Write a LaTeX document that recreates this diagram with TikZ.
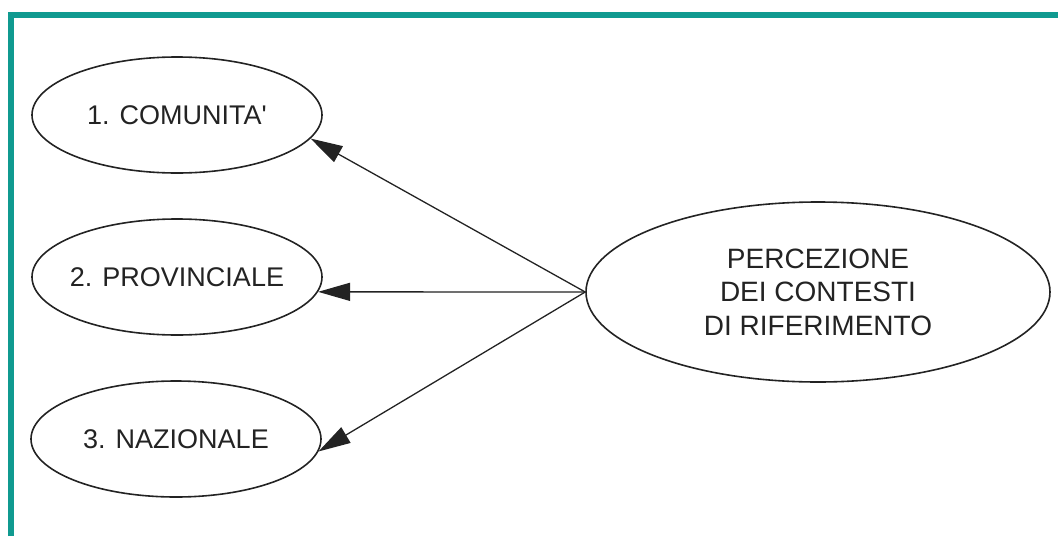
\documentclass[tikz,border=0pt]{standalone}
\usepackage{fontspec}
% plain family, so that ' stays a straight apostrophe
\newfontfamily\diagfont{Liberation Sans}
\usetikzlibrary{shapes.geometric,arrows.meta}
\definecolor{frameteal}{RGB}{16,154,144}
\definecolor{inkgray}{RGB}{35,35,35}
\newcommand{\lvltext}[1]{\makebox[0pt]{#1}}
\tikzset{
  level/.style={ellipse, draw=inkgray, line width=1.6pt, inner sep=0pt,
    minimum width=290pt, minimum height=116pt,
    font=\diagfont\fontsize{27pt}{32pt}\selectfont, text=inkgray},
  hub/.style={ellipse, draw=inkgray, line width=1.6pt, inner sep=0pt,
    minimum width=464pt, minimum height=180pt, align=center,
    font=\diagfont\fontsize{28pt}{33.5pt}\selectfont, text=inkgray},
  link/.style={draw=inkgray, line width=1.3pt,
    -{Triangle[length=32pt,width=18pt]}}
}
\begin{document}
\begin{tikzpicture}[x=1pt,y=-1pt]
  \useasboundingbox (0,0) rectangle (1058,536);
  % frame along the top and left edges
  \draw[frameteal, line width=6pt, line join=miter] (11,536) -- (11,15) -- (1058,15);

  % context levels
  \node[level] (com) at (177,115) {\lvltext{1. COMUNITA'}};
  \node[level] (prov) at (177,277) {\lvltext{2. PROVINCIALE}};
  \node[level] (naz) at (176,439) {\lvltext{3. NAZIONALE}};

  % central concept
  \node[hub] (perc) at (818,292) {PERCEZIONE\\DEI CONTESTI\\DI RIFERIMENTO};

  % arrows from the concept to each level
  \draw[link] (perc.west) -- (com.-10);
  \draw[link] (perc.west) -- (prov.-6);
  \draw[link] (perc.west) -- (naz.-5);
\end{tikzpicture}
\end{document}
